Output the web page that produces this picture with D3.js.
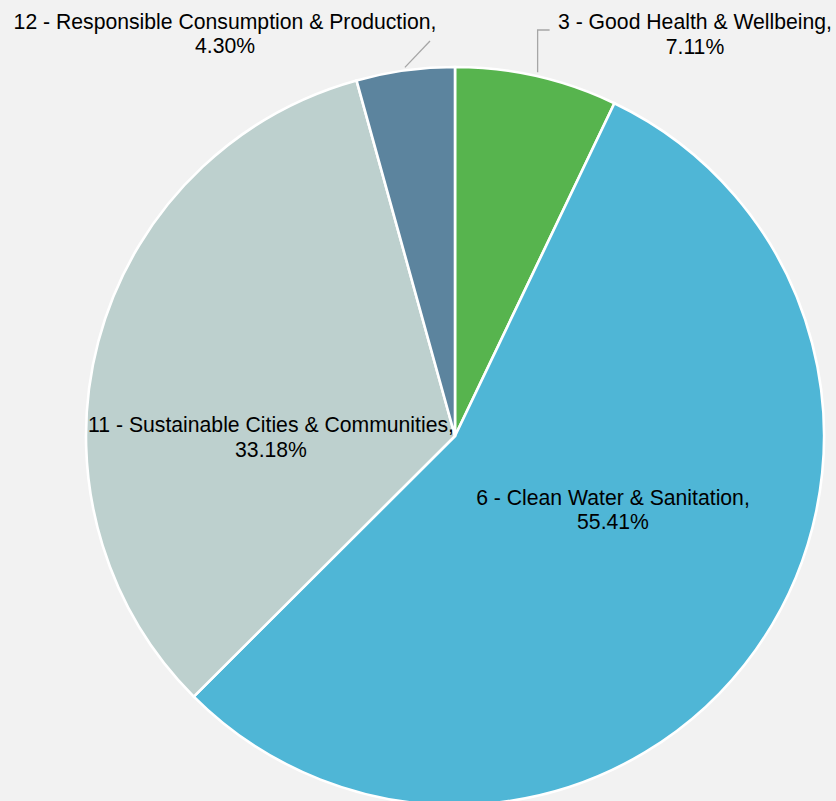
<!DOCTYPE html>
<html>
<head>
<meta charset="utf-8">
<script src="https://cdn.jsdelivr.net/npm/d3@7"></script>
<style>
  body { margin: 0; background: #f2f2f2; }
  svg { display: block; }
  text { font-family: "Liberation Sans", Arial, sans-serif; font-size: 21.2px; fill: #000; }
</style>
</head>
<body>
<svg id="chart" width="836" height="801"></svg>
<script>
// Share of spending by Sustainable Development Goal
const goals = [
  "3 - Good Health & Wellbeing",
  "6 - Clean Water & Sanitation",
  "11 - Sustainable Cities & Communities",
  "12 - Responsible Consumption & Production"
];
const shares = [7.11, 55.41, 33.18, 4.30];
const palette = ["#57b44e", "#4fb6d6", "#bdd0ce", "#5c849e"];

const W = 836, H = 801;
const cx = 455, cy = 436, R = 369;

const svg = d3.select("#chart");
svg.append("rect").attr("width", W).attr("height", H).attr("fill", "#f2f2f2");

const color = d3.scaleOrdinal(goals, palette);
const rows = goals.map((g, i) => ({ goal: g, share: shares[i] }));

const pie = d3.pie().sort(null).value(d => d.share);
const arc = d3.arc().innerRadius(0).outerRadius(R);
const arcs = pie(rows);

const g = svg.append("g").attr("transform", `translate(${cx},${cy})`);

g.selectAll("path.slice")
  .data(arcs)
  .join("path")
  .attr("class", "slice")
  .attr("d", arc)
  .attr("fill", d => color(d.data.goal))
  .attr("stroke", "#fff")
  .attr("stroke-width", 2.6);

// point on the rim at a slice's middle angle
const rim = (d, r) => {
  const a = (d.startAngle + d.endAngle) / 2;
  return [r * Math.sin(a), -r * Math.cos(a)];
};

// label block placement relative to the pie centre (x centre, first baseline)
const labelPos = [
  { x: 240, y: -407 },
  { x: 158, y: 68.5 },
  { x: -184, y: -4 },
  { x: -230, y: -407.5 }
];
const lineGap = 24.5;
const fmt = d3.format(".2f");

// leader lines for the two labels sitting outside the pie
const leaderColor = "#a6a6a6";
{
  const s = rim(arcs[0], R + 4);
  g.append("polyline")
    .attr("points", [[s[0], s[1]], [s[0], -406], [s[0] + 12, -406]].map(p => p.join(",")).join(" "))
    .attr("fill", "none").attr("stroke", leaderColor).attr("stroke-width", 1.3);
}
{
  const s = rim(arcs[3], R + 3);
  g.append("line")
    .attr("x1", s[0]).attr("y1", s[1])
    .attr("x2", -25).attr("y2", -395)
    .attr("stroke", leaderColor).attr("stroke-width", 1.3);
}

const labels = g.selectAll("text.lbl")
  .data(arcs)
  .join("text")
  .attr("class", "lbl")
  .attr("text-anchor", "middle");

labels.append("tspan")
  .attr("x", (d, i) => labelPos[i].x)
  .attr("y", (d, i) => labelPos[i].y)
  .text(d => d.data.goal + ",");
labels.append("tspan")
  .attr("x", (d, i) => labelPos[i].x)
  .attr("y", (d, i) => labelPos[i].y + lineGap)
  .text(d => fmt(d.data.share) + "%");
</script>
</body>
</html>
